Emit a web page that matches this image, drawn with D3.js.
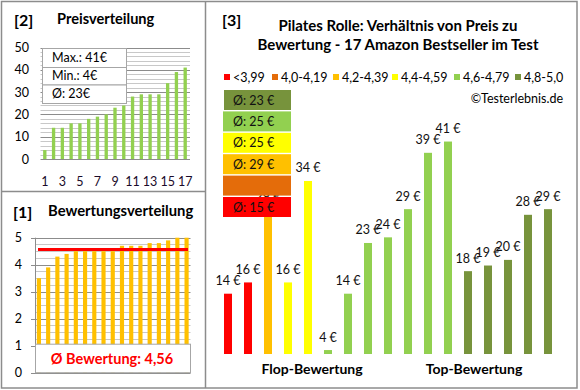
<!DOCTYPE html>
<html><head><meta charset="utf-8">
<script src="https://cdn.jsdelivr.net/npm/d3@7"></script>
<style>
html,body{margin:0;padding:0;background:#fff;}
svg{display:block;font-family:Lato,"Open Sans",sans-serif;}
</style></head>
<body>
<svg id="c" width="580" height="390"></svg>
<script>
// ---------- DATA ----------
const rankLabels = [1,2,3,4,5,6,7,8,9,10,11,12,13,14,15,16,17];
const sortedPrices = [4,14,14,16,16,18,19,20,23,24,28,29,29,29,34,39,41];
const sortedRatings = [3.5,3.9,4.3,4.4,4.5,4.5,4.5,4.5,4.5,4.7,4.7,4.7,4.8,4.8,4.9,5.0,5.0];
const ratingAverage = 4.56;
const priceTicks = [0,10,20,30,40,50];
const ratingTicks = [0,1,2,3,4,5];
const statLabels = ["Max.: 41€","Min.: 4€","Ø: 23€"];
const productPrices = [14,16,29,16,34,4,14,23,24,29,39,41,18,19,20,28,29];
const productClass = [0,0,2,3,3,4,4,4,4,4,4,4,5,5,5,5,5];
const classNames = ["<3,99","4,0-4,19","4,2-4,39","4,4-4,59","4,6-4,79","4,8-5,0"];
const classColors = ["#FF0000","#E46C0A","#FFC000","#FFFF00","#92D050","#77933C"];
const groupNames = ["Flop-Bewertung","Top-Bewertung"];

const svg = d3.select("#c");

// ---------- frames ----------
svg.append("rect").attr("x",1.5).attr("y",1.5).attr("width",575.5).attr("height",386.5)
  .attr("fill","none").attr("stroke","#8c8c8c").attr("stroke-width",1.5);
svg.append("line").attr("x1",205.5).attr("x2",205.5).attr("y1",1.5).attr("y2",388)
  .attr("stroke","#8c8c8c").attr("stroke-width",1.5);
svg.append("line").attr("x1",1.5).attr("x2",205.5).attr("y1",191.5).attr("y2",191.5)
  .attr("stroke","#8c8c8c").attr("stroke-width",1.5);

// ---------- [2] Preisverteilung ----------
{
  const g = svg.append("g");
  g.append("text").attr("x",14).attr("y",26).attr("font-size",16).attr("font-weight","bold").text("[2]");
  g.append("text").attr("x",57).attr("y",24).attr("font-size",14.6).attr("font-weight","bold").text("Preisverteilung");
  const y = d3.scaleLinear().domain([0,50]).range([159,47.5]);
  const x = d3.scaleBand().domain(rankLabels).range([40.5,189.5]).paddingInner(0.62).paddingOuter(0.3);
  const minor = d3.range(0,50.01,2);
  g.selectAll(".mn").data(minor).join("line")
    .attr("x1",40.5).attr("x2",190).attr("y1",d=>Math.round(y(d))+0.5).attr("y2",d=>Math.round(y(d))+0.5)
    .attr("stroke",d=>d%10===0?"#8c8c8c":"#c8c8c8").attr("stroke-width",1);
  g.selectAll(".yl").data(priceTicks).join("text")
    .attr("x",29).attr("y",d=>y(d)+4.5).attr("text-anchor","end").attr("font-size",12.5).text(d=>d);
  g.selectAll(".b").data(sortedPrices).join("rect")
    .attr("x",(d,i)=>x(rankLabels[i])).attr("width",x.bandwidth())
    .attr("y",d=>y(d)).attr("height",d=>y(0)-y(d)).attr("fill","#92D050");
  g.selectAll(".xl").data(rankLabels.filter(d=>d%2===1)).join("text")
    .attr("x",d=>x(d)+x.bandwidth()/2).attr("y",186).attr("text-anchor","middle").attr("font-size",12.5)
    .attr("fill","#1a0a2a").text(d=>d);
  // stats box
  const bx=42, by=48, bw=84, rh=[19,17.5,18.5];
  let yy = by;
  statLabels.forEach((s,i)=>{
    g.append("rect").attr("x",bx+0.5).attr("y",yy+0.5).attr("width",bw).attr("height",rh[i])
      .attr("fill","#fff").attr("stroke","#a6a6a6").attr("stroke-width",1);
    g.append("text").attr("x",bx+10).attr("y",yy+rh[i]/2+4.5).attr("font-size",12.5).text(s);
    yy += rh[i];
  });
}

// ---------- [1] Bewertungsverteilung ----------
{
  const g = svg.append("g");
  g.append("text").attr("x",13).attr("y",218).attr("font-size",16).attr("font-weight","bold").text("[1]");
  g.append("text").attr("x",48).attr("y",216).attr("font-size",14.8).attr("font-weight","bold").text("Bewertungsverteilung");
  const y = d3.scaleLinear().domain([0,5]).range([372.7,237.7]);
  const x = d3.scaleBand().domain(rankLabels).range([35,190.5]).paddingInner(0.55).paddingOuter(0.2);
  const minor = d3.range(0,5.001,0.25);
  g.selectAll(".mn").data(minor).join("line")
    .attr("x1",35).attr("x2",190.5).attr("y1",d=>Math.round(y(d))+0.5).attr("y2",d=>Math.round(y(d))+0.5)
    .attr("stroke",d=>Math.abs(d-Math.round(d))<1e-6?"#8c8c8c":"#c8c8c8").attr("stroke-width",1);
  g.append("line").attr("x1",35.5).attr("x2",35.5).attr("y1",237.7).attr("y2",372.7).attr("stroke","#8c8c8c");
  g.selectAll(".tk").data(ratingTicks).join("line")
    .attr("x1",31).attr("x2",35.5).attr("y1",d=>Math.round(y(d))+0.5).attr("y2",d=>Math.round(y(d))+0.5).attr("stroke","#8c8c8c");
  g.selectAll(".yl").data(ratingTicks).join("text")
    .attr("x",22).attr("y",d=>y(d)+4.5).attr("text-anchor","end").attr("font-size",12.5).text(d=>d);
  g.selectAll(".b").data(sortedRatings).join("rect")
    .attr("x",(d,i)=>x(rankLabels[i])).attr("width",x.bandwidth())
    .attr("y",d=>y(d)).attr("height",d=>y(0)-y(d)).attr("fill","#FFC000");
  g.append("line").attr("x1",38).attr("x2",188).attr("y1",y(ratingAverage)).attr("y2",y(ratingAverage))
    .attr("stroke","#FF0000").attr("stroke-width",3);
  g.append("rect").attr("x",35.5).attr("y",y(1)-1.5).attr("width",155).attr("height",y(0)-y(1)+1.5)
    .attr("fill","#fff").attr("stroke","#a6a6a6");
  g.append("text").attr("x",112).attr("y",364).attr("text-anchor","middle").attr("font-size",14.5)
    .attr("font-weight","bold").attr("fill","#FF0000")
    .text("Ø Bewertung: " + d3.format(".2f")(ratingAverage).replace(".",","));
}

// ---------- [3] main chart ----------
{
  const g = svg.append("g");
  g.append("text").attr("x",222).attr("y",26).attr("font-size",16).attr("font-weight","bold").text("[3]");
  g.append("text").attr("x",398).attr("y",31).attr("text-anchor","middle").attr("font-size",15).attr("font-weight","bold")
    .text("Pilates Rolle: Verhältnis von Preis zu");
  g.append("text").attr("x",398).attr("y",50).attr("text-anchor","middle").attr("font-size",15).attr("font-weight","bold")
    .text("Bewertung - 17 Amazon Bestseller im Test");
  // legend
  const legX = [224,272,333,392,454,515];
  classNames.forEach((n,i)=>{
    g.append("rect").attr("x",legX[i]).attr("y",74).attr("width",6).attr("height",6).attr("fill",classColors[i]);
    g.append("text").attr("x",legX[i]+9).attr("y",81.5).attr("font-size",12.5).text(n);
  });
  g.append("text").attr("x",563).attr("y",103).attr("text-anchor","end").attr("font-size",12.5).text("©Testerlebnis.de");

  const y = d3.scaleLinear().domain([3.3,45]).range([354,119]);
  const x = d3.scaleBand().domain(d3.range(productPrices.length)).range([218,558]).paddingInner(0.6).paddingOuter(0.3);
  g.selectAll(".b").data(productPrices).join("rect")
    .attr("x",(d,i)=>x(i)).attr("width",x.bandwidth())
    .attr("y",d=>y(d)).attr("height",d=>y(3.3)-y(d)).attr("fill",(d,i)=>classColors[productClass[i]]);
  g.selectAll(".vl").data(productPrices).join("text")
    .attr("x",(d,i)=>x(i)+x.bandwidth()/2).attr("y",d=>y(d)-8.5).attr("text-anchor","middle")
    .attr("font-size",12.5).attr("fill","#111").text(d=>d+" €");
  // group labels
  g.append("text").attr("x",312).attr("y",374).attr("text-anchor","middle").attr("font-size",14).attr("font-weight","bold").text(groupNames[0]);
  g.append("text").attr("x",474).attr("y",374).attr("text-anchor","middle").attr("font-size",14).attr("font-weight","bold").text(groupNames[1]);
  // average boxes (top: best class)
  const boxTop = 90, boxH = 20, boxStep = 21.4;
  for (let k=5;k>=0;k--){
    const row = 5-k;
    const vals = productPrices.filter((p,i)=>productClass[i]===k);
    const by = boxTop + row*boxStep;
    g.append("rect").attr("x",k===5?224:223).attr("y",by).attr("width",k===5?67:68).attr("height",boxH).attr("fill",classColors[k]);
    if (vals.length){
      g.append("text").attr("x",233).attr("y",by+boxH/2+4.5).attr("font-size",12.5).attr("fill","#111")
        .text("Ø: " + Math.round(d3.mean(vals)) + " €");
    }
  }
}
</script>
</body></html>
